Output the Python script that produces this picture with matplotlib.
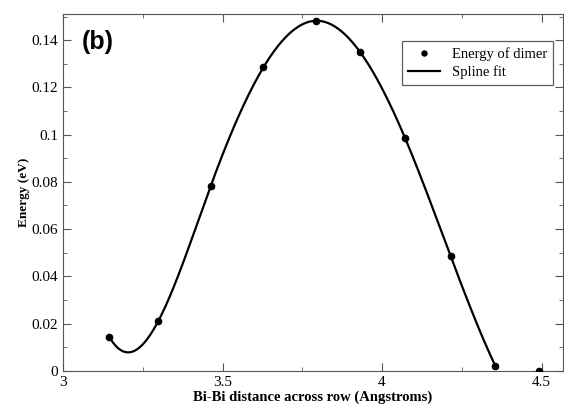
import numpy as np
import matplotlib
matplotlib.use("Agg")
import matplotlib.pyplot as plt
from matplotlib.ticker import MultipleLocator

# dimer energy vs Bi-Bi distance
dist = [3.145, 3.298, 3.463, 3.628, 3.793, 3.932, 4.072, 4.215, 4.355, 4.493]
energy = [0.0143, 0.0210, 0.0784, 0.1285, 0.1482, 0.1348, 0.0986, 0.0486, 0.0022, 0.0]
n_fit = 9  # spline drawn over the first 9 points


def spline_nak(x, y, xs):
    # cubic spline, not-a-knot ends
    x = np.asarray(x, float)
    y = np.asarray(y, float)
    n = len(x)
    h = np.diff(x)
    A = np.zeros((n, n))
    b = np.zeros(n)
    A[0, 0], A[0, 1], A[0, 2] = h[1], -(h[0] + h[1]), h[0]
    A[-1, -3], A[-1, -2], A[-1, -1] = h[-1], -(h[-2] + h[-1]), h[-2]
    for i in range(1, n - 1):
        A[i, i - 1] = h[i - 1]
        A[i, i] = 2 * (h[i - 1] + h[i])
        A[i, i + 1] = h[i]
        b[i] = 6 * ((y[i + 1] - y[i]) / h[i] - (y[i] - y[i - 1]) / h[i - 1])
    M = np.linalg.solve(A, b)
    k = np.clip(np.searchsorted(x, xs) - 1, 0, n - 2)
    t1 = x[k + 1] - xs
    t2 = xs - x[k]
    hk = h[k]
    return (M[k] * t1**3 / (6 * hk) + M[k + 1] * t2**3 / (6 * hk)
            + (y[k] / hk - M[k] * hk / 6) * t1
            + (y[k + 1] / hk - M[k + 1] * hk / 6) * t2)


xs = np.linspace(dist[0], dist[n_fit - 1], 400)
ys = spline_nak(dist[:n_fit], energy[:n_fit], xs)

plt.rcParams['font.family'] = ['Liberation Serif', 'DejaVu Serif']

fig = plt.figure(figsize=(5.64, 4.04), dpi=100)
ax = fig.add_axes([0.112, 0.082, 0.886, 0.883])

ax.plot(dist, energy, 'o', color='black', ms=4.5, label='Energy of dimer', zorder=3)
ax.plot(xs, ys, '-', color='black', lw=1.6, label='Spline fit')

ax.set_xlim(3, 4.567)
ax.set_ylim(0, 0.151)
ax.xaxis.set_major_locator(MultipleLocator(0.5))
ax.xaxis.set_minor_locator(MultipleLocator(0.25))
ax.yaxis.set_major_locator(MultipleLocator(0.02))
ax.yaxis.set_minor_locator(MultipleLocator(0.01))
ax.xaxis.set_major_formatter(plt.FuncFormatter(lambda v, p: ('%g' % round(v, 3))))
ax.yaxis.set_major_formatter(plt.FuncFormatter(lambda v, p: ('%g' % round(v, 3))))
ax.tick_params(which='both', direction='in', top=True, right=True, labelsize=11, color='#555555')
ax.tick_params(which='major', length=6)
ax.tick_params(which='minor', length=3)
for s in ax.spines.values():
    s.set_color('#555555')

ax.set_xlabel('Bi-Bi distance across row (Angstroms)', fontsize=10.5, fontweight='bold', labelpad=1)
ax.set_ylabel('Energy (eV)', fontsize=9.5, fontweight='bold', labelpad=1)

ax.text(0.038, 0.955, '(b)', transform=ax.transAxes, ha='left', va='top',
        fontsize=18, fontweight='bold', family=['Liberation Sans', 'DejaVu Sans'])

leg = ax.legend(loc='upper right', bbox_to_anchor=(0.995, 0.945), fontsize=10.5,
                frameon=True, fancybox=False, handlelength=2.2, borderpad=0.4,
                labelspacing=0.3, markerscale=0.8)
leg.get_frame().set_edgecolor('#333333')
leg.get_frame().set_linewidth(0.9)

fig.savefig('out.png', dpi=100)
